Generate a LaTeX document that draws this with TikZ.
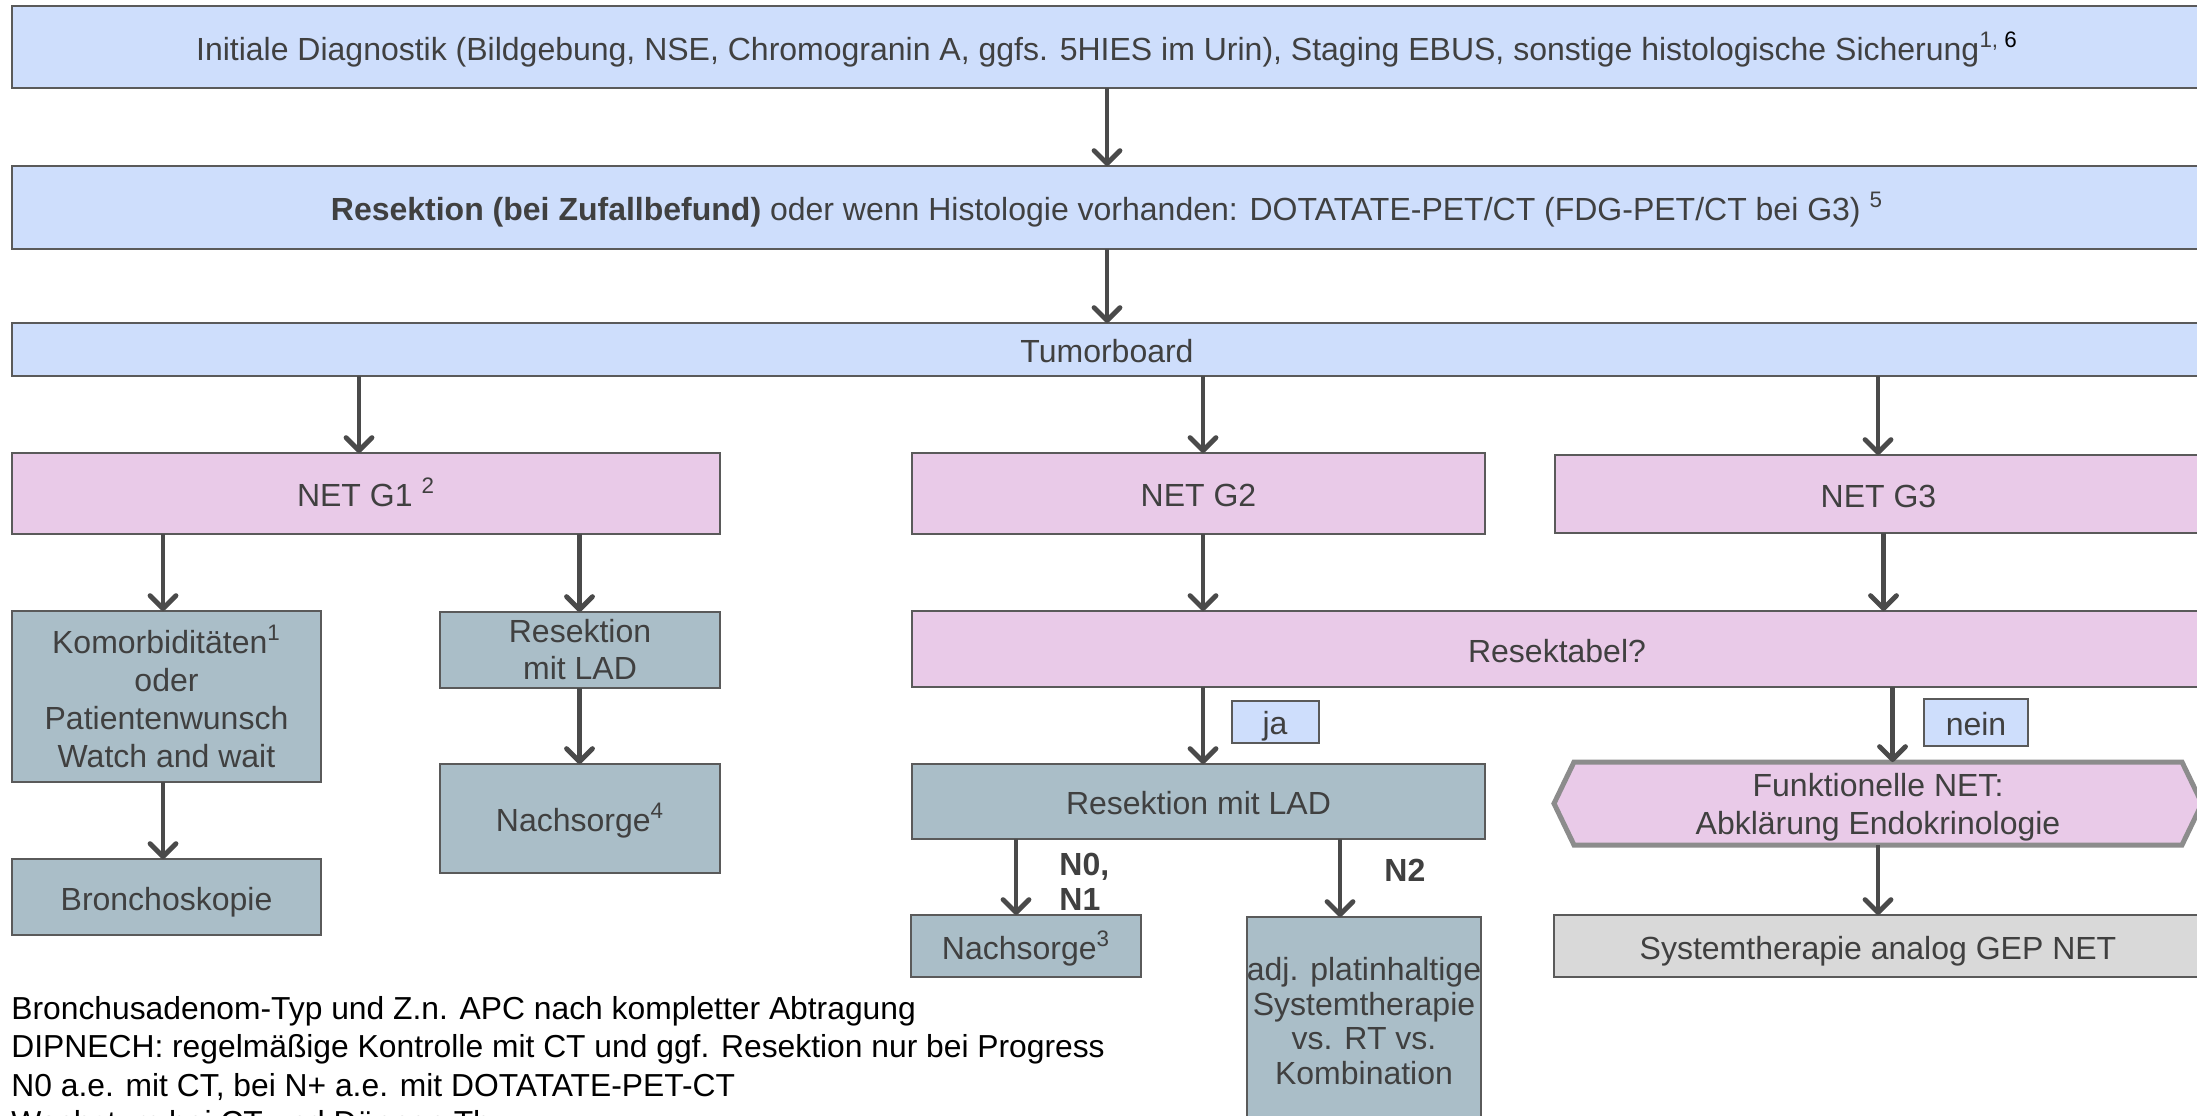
\documentclass[tikz,border=0pt]{standalone}
\usepackage{fontspec}
\setmainfont{Liberation Sans}
\usetikzlibrary{arrows.meta}
\definecolor{txt}{HTML}{404040}
\definecolor{bd}{HTML}{5A5A5A}
\definecolor{lblue}{RGB}{206,222,252}
\definecolor{lpink}{RGB}{233,202,232}
\definecolor{lteal}{RGB}{170,190,200}
\definecolor{lgray}{RGB}{217,217,217}
\definecolor{hexbd}{HTML}{8C8C8C}
\definecolor{arrc}{HTML}{4A4A4A}
\tikzset{
  bx/.style={draw=bd, line width=1pt, text=txt, align=center, inner sep=0pt, outer sep=0pt,
    font=\fontsize{16}{18.5}\selectfont},
  sline/.style={text height=13pt, text depth=0pt},
  bluebox/.style={bx, fill=lblue},
  pinkbox/.style={bx, fill=lpink},
  tealbox/.style={bx, fill=lteal},
  graybox/.style={bx, fill=lgray},
  arr/.style={draw=arrc, line width=2.4pt,
    -{Straight Barb[length=6.5pt,width=13pt,line cap=round,line join=round]}},
  lbl/.style={text=txt, font=\fontsize{16}{17.5}\selectfont\bfseries, align=left, inner sep=0pt},
  foot/.style={text=black, font=\fontsize{15.9}{18.5}\selectfont, anchor=base west, inner sep=0pt}
}
\begin{document}
\begin{tikzpicture}[x=0.5pt,y=-0.5pt]
\useasboundingbox (0,0) rectangle (2197,1115);
\clip (0,0) rectangle (2197,1115);
\fill[white] (0,0) rectangle (2197,1115);

% top row boxes
\node[bluebox, sline, minimum width=1095pt, minimum height=41pt] (init) at (1107,47)
  {Initiale Diagnostik (Bildgebung, NSE, Chromogranin A, ggfs. 5HIES im Urin), Staging EBUS, sonstige histologische Sicherung\textsuperscript{1, \textcolor{black}{6}}};
\node[bluebox, sline, minimum width=1095pt, minimum height=41.5pt] (res) at (1107,207.5)
  {\textbf{Resektion (bei Zufallbefund)} oder wenn Histologie vorhanden: DOTATATE-PET/CT (FDG-PET/CT bei G3) \textsuperscript{5}};
\node[bluebox, sline, minimum width=1095pt, minimum height=26.5pt] (tb) at (1107,349.5) {Tumorboard};

% grade boxes
\node[pinkbox, sline, minimum width=354pt, minimum height=40.5pt] (g1) at (366,493.5) {NET G1 \textsuperscript{2}};
\node[pinkbox, sline, minimum width=286.5pt, minimum height=40.5pt] (g2) at (1198.5,493.5) {NET G2};
\node[pinkbox, sline, minimum width=323.5pt, minimum height=39pt] (g3) at (1878.5,494) {NET G3};

% G1 column
\node[tealbox, minimum width=154.5pt, minimum height=85.5pt, font=\fontsize{16}{19}\selectfont] (kom) at (166.5,696.5)
  {Komorbiditäten\textsuperscript{1}\\oder\\Patientenwunsch\\Watch and wait};
\node[tealbox, sline, minimum width=154.5pt, minimum height=38pt] (bron) at (166.5,897) {Bronchoskopie};
\node[tealbox, minimum width=140pt, minimum height=38pt] (resg1) at (580,650) {Resektion\\mit LAD};
\node[tealbox, sline, minimum width=140pt, minimum height=54.5pt] (nach4) at (580,818.5) {Nachsorge\textsuperscript{4}};

% G2/G3
\node[pinkbox, sline, minimum width=645pt, minimum height=38pt] (resk) at (1557,649) {Resektabel?};
\node[tealbox, sline, minimum width=286.5pt, minimum height=37.5pt] (resg2) at (1198.5,801.5) {Resektion mit LAD};
\node[tealbox, sline, minimum width=115pt, minimum height=31pt] (nach3) at (1026,946) {Nachsorge\textsuperscript{3}};
\node[tealbox, minimum width=117pt, minimum height=104pt, font=\fontsize{16}{17.2}\selectfont] (adj) at (1364,1021)
  {adj. platinhaltige\\Systemtherapie\\vs. RT vs.\\Kombination};
\node[inner sep=0pt, outer sep=0pt, minimum width=324pt, minimum height=41.5pt] (fn) at (1878,803.5) {};
\filldraw[fill=lpink, draw=hexbd, line width=2.5pt, line join=miter]
  (fn.west) -- ([xshift=10pt]fn.north west) -- ([xshift=-10pt]fn.north east) -- (fn.east)
  -- ([xshift=-10pt]fn.south east) -- ([xshift=10pt]fn.south west) -- cycle;
\node[text=txt, align=center, inner sep=0pt, font=\fontsize{16}{19}\selectfont] (fntext) at ([yshift=-2pt]fn.center)
  {Funktionelle NET:\\Abklärung Endokrinologie};
\node[graybox, sline, minimum width=324pt, minimum height=31pt] (sys) at (1878,946) {Systemtherapie analog GEP NET};

% ja / nein labels
\node[bluebox, sline, minimum width=43.5pt, minimum height=21pt] (ja) at (1275,721.5) {ja};
\node[bluebox, sline, minimum width=52pt, minimum height=23.5pt] (nein) at (1976,722.5) {nein};

% N labels
\node[lbl, anchor=west] (n01) at (1059,882) {N0,\\N1};
\node[lbl, anchor=west] (n2) at (1384,870) {N2};

% arrows
\draw[arr] (init.south -| 1107,0) -- (res.north -| 1107,0);
\draw[arr] (res.south -| 1107,0) -- (tb.north -| 1107,0);
\draw[arr] (tb.south -| 359,0) -- (g1.north -| 359,0);
\draw[arr] (tb.south -| 1203,0) -- (g2.north -| 1203,0);
\draw[arr] (tb.south -| 1878,0) -- (g3.north -| 1878,0);
\draw[arr] (g1.south -| 163,0) -- (kom.north -| 163,0);
\draw[arr] (g1.south -| 579.5,0) -- (resg1.north -| 579.5,0);
\draw[arr] (resg1.south -| 579.5,0) -- (nach4.north -| 579.5,0);
\draw[arr] (kom.south -| 163,0) -- (bron.north -| 163,0);
\draw[arr] (g2.south -| 1203,0) -- (resk.north -| 1203,0);
\draw[arr] (g3.south -| 1883.5,0) -- (resk.north -| 1883.5,0);
\draw[arr] (resk.south -| 1203,0) -- (resg2.north -| 1203,0);
\draw[arr] (resk.south -| 1892.5,0) -- (fn.north -| 1892.5,0);
\draw[arr] (fn.south -| 1878,0) -- (sys.north -| 1878,0);
\draw[arr] (resg2.south -| 1016,0) -- (nach3.north -| 1016,0);
\draw[arr] (resg2.south -| 1340,0) -- (adj.north -| 1340,0);

% footnotes
\node[foot] (f1) at (11,1019) {Bronchusadenom-Typ und Z.n. APC nach kompletter Abtragung};
\node[foot] (f2) at (11,1057.5) {DIPNECH: regelmäßige Kontrolle mit CT und ggf. Resektion nur bei Progress};
\node[foot] (f3) at (11,1096) {N0 a.e. mit CT, bei N+ a.e. mit DOTATATE-PET-CT};
\node[foot] (f4) at (11,1133) {Wachstum bei CT und Dünnen Th};
\end{tikzpicture}
\end{document}
